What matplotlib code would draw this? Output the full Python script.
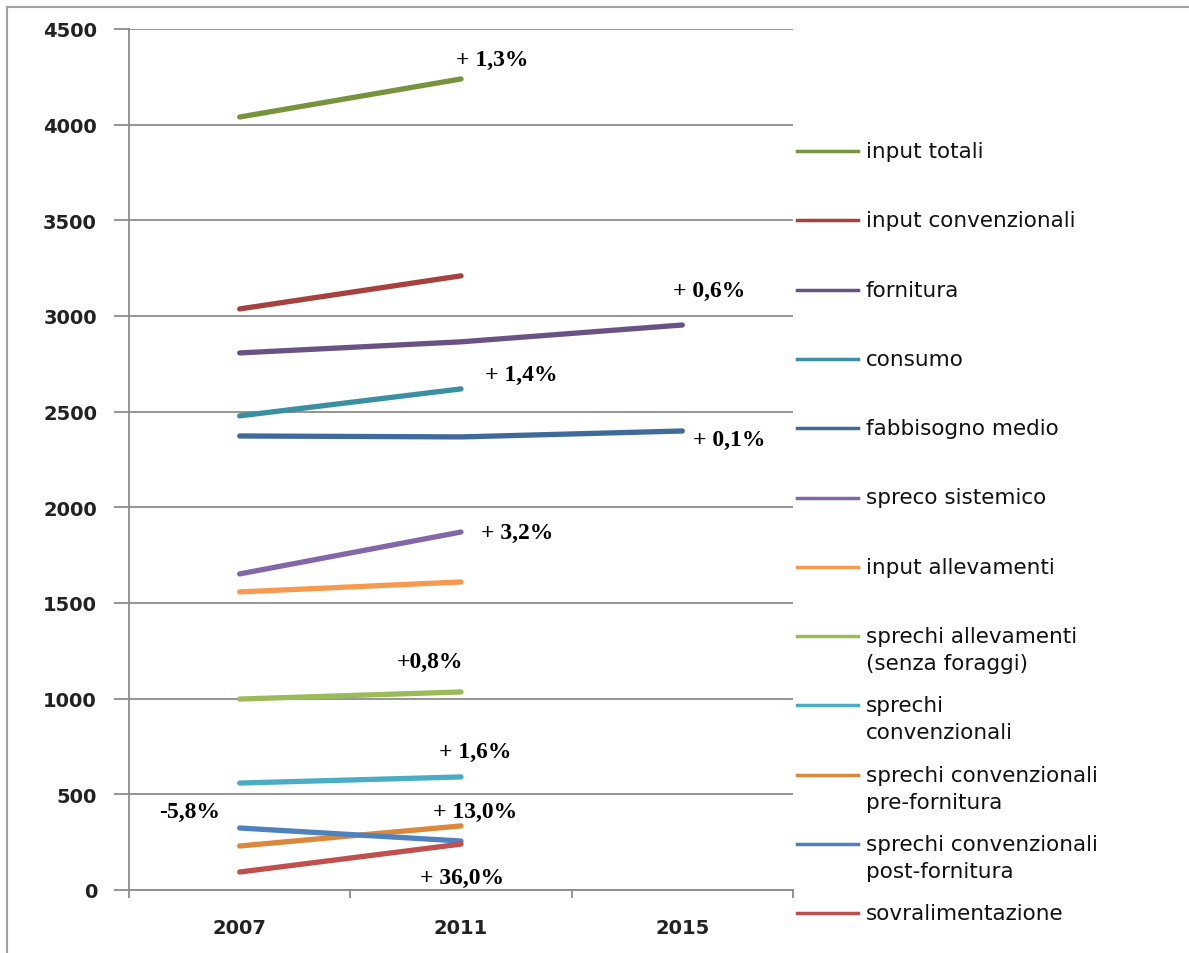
import matplotlib.pyplot as plt
from matplotlib.lines import Line2D

years = ["2007", "2011", "2015"]

input_totali = [4040, 4239]
input_convenzionali = [3037, 3210]
fornitura = [2807, 2865, 2953]
consumo = [2478, 2619]
fabbisogno_medio = [2373, 2368, 2399]
spreco_sistemico = [1652, 1871]
input_allevamenti = [1558, 1610]
sprechi_allevamenti = [998, 1035]
sprechi_convenzionali = [559, 591]
sprechi_pre = [230, 335]
sprechi_post = [324, 256]
sovralimentazione = [94, 240]

series = [
    ("input totali", input_totali, "#77933C"),
    ("input convenzionali", input_convenzionali, "#A6413E"),
    ("fornitura", fornitura, "#6B5285"),
    ("consumo", consumo, "#3A8FA3"),
    ("fabbisogno medio", fabbisogno_medio, "#3F6A9A"),
    ("spreco sistemico", spreco_sistemico, "#8467A8"),
    ("input allevamenti", input_allevamenti, "#F79A4F"),
    ("sprechi allevamenti\n(senza foraggi)", sprechi_allevamenti, "#9BBB59"),
    ("sprechi\nconvenzionali", sprechi_convenzionali, "#4BACC6"),
    ("sprechi convenzionali\npre-fornitura", sprechi_pre, "#D9883C"),
    ("sprechi convenzionali\npost-fornitura", sprechi_post, "#4F81BD"),
    ("sovralimentazione", sovralimentazione, "#C0504D"),
]

# percentage notes: (text, x in category units, y in data units)
notes = [
    ("+ 1,3%", 1.143, 4343),
    ("+ 0,6%", 2.12, 3131),
    ("+ 1,4%", 1.274, 2697),
    ("+ 0,1%", 2.21, 2357),
    ("+ 3,2%", 1.252, 1871),
    ("+0,8%", 0.858, 1192),
    ("+ 1,6%", 1.066, 726),
    ("-5,8%", -0.226, 408),
    ("+ 13,0%", 1.062, 408),
    ("+ 36,0%", 1.005, 68),
]

W, H = 1189, 954
fig = plt.figure(figsize=(W / 100, H / 100), dpi=100)
ax = fig.add_axes([129 / W, 1 - 891 / H, (793 - 129) / W, (891 - 30) / H])

grey = "#8C8C8C"
for label, vals, col in series:
    ax.plot(range(len(vals)), vals, color=col, lw=3.8, solid_capstyle="round", zorder=3)

for txt, x, y in notes:
    ax.text(x, y, txt, ha="center", va="center", fontsize=17, fontweight="bold",
            family="Liberation Serif", zorder=4)

ax.set_xlim(-0.5, 2.5)
ax.set_ylim(0, 4500)
ax.set_yticks(range(0, 4501, 500))
ax.yaxis.grid(True, color=grey, lw=1.3)
ax.set_axisbelow(True)

ax.set_xticks([-0.5, 0.5, 1.5, 2.5])
ax.set_xticklabels([])
ax.set_xticks(range(len(years)), minor=True)
ax.set_xticklabels(years, minor=True)
ax.tick_params(axis="x", which="minor", length=0, pad=20)
ax.tick_params(axis="x", which="major", length=6, width=1.3, color=grey)
ax.tick_params(axis="y", length=11, width=1.3, color=grey, pad=12)
for lab in ax.get_xticklabels(minor=True) + ax.get_yticklabels():
    lab.set_fontsize(14)
    lab.set_fontweight("bold")
    lab.set_family("DejaVu Sans")
    lab.set_color("#222222")

for s in ["top", "right"]:
    ax.spines[s].set_visible(False)
for s in ["left", "bottom"]:
    ax.spines[s].set_color(grey)
    ax.spines[s].set_linewidth(1.3)

# legend on the right, first line of each label aligned with its handle
y0, step = 152, 69.3
for i, (label, vals, col) in enumerate(series):
    yp = 1 - (y0 + i * step) / H
    fig.add_artist(Line2D([797 / W, 858 / W], [yp, yp], color=col, lw=2.5))
    lines = label.split("\n")
    for j, ln in enumerate(lines):
        fig.text(866 / W, yp - j * 27 / H, ln, ha="left", va="center",
                 fontsize=15.5, family="DejaVu Sans", color="#111111")

# outer frame
fig.add_artist(Line2D([7 / W, 7 / W], [0, 1 - 8 / H], color="#A0A0A0", lw=1.5))
fig.add_artist(Line2D([7 / W, 1], [1 - 8 / H, 1 - 8 / H], color="#A0A0A0", lw=1.5))

fig.savefig("out.png", dpi=100)
